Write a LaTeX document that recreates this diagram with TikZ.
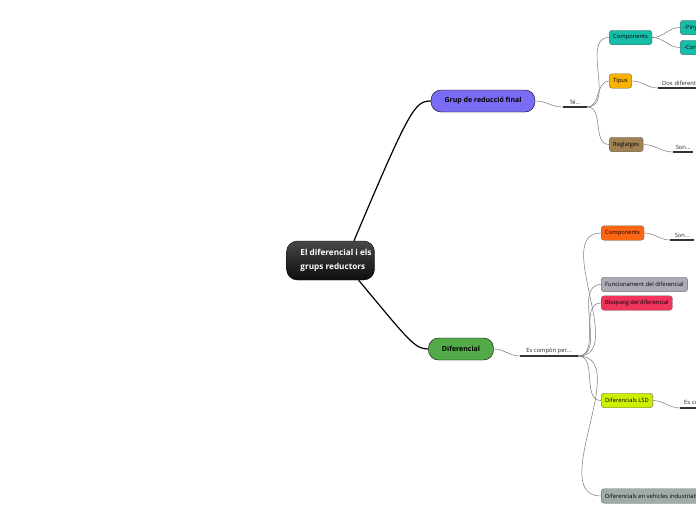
\documentclass[tikz,border=0pt]{standalone}
\usepackage{fontspec}
\setmainfont{Open Sans}
\usetikzlibrary{positioning}
\definecolor{grfcolor}{RGB}{122,108,245}
\definecolor{difcolor}{RGB}{82,170,72}
\definecolor{tealcolor}{RGB}{22,190,170}
\definecolor{tipcolor}{RGB}{250,178,0}
\definecolor{regcolor}{RGB}{160,130,82}
\definecolor{orgcolor}{RGB}{255,102,20}
\definecolor{funcolor}{RGB}{172,170,182}
\definecolor{blqcolor}{RGB}{240,52,92}
\definecolor{lsdcolor}{RGB}{206,240,0}
\definecolor{indcolor}{RGB}{162,172,166}
\definecolor{linkgray}{RGB}{120,120,120}
\tikzset{
  central/.style = {draw=black,top color=black!72,bottom color=black!95,
                    text=white,rounded corners=11pt,
                    minimum width=85pt,minimum height=39pt,align=left,
                    font=\fontsize{8.2}{13.5}\selectfont\bfseries,inner sep=3pt},
  mainbox/.style = {draw=black,rounded corners=10pt,minimum height=22pt,
                    font=\fontsize{7}{8}\selectfont\bfseries,inner xsep=13.5pt},
  subbox/.style  = {draw=black!60,rounded corners=3pt,minimum height=14.5pt,
                    font=\fontsize{5.8}{7}\selectfont,inner xsep=4pt,
                    inner ysep=1pt,anchor=west},
  lbl/.style     = {font=\fontsize{5.8}{7}\selectfont,text=black!85,
                    inner ysep=2pt,inner xsep=0pt},
  trunk/.style   = {line width=1.2pt,black},
  link/.style    = {linkgray,line width=0.5pt},
  ul/.style      = {line width=1.4pt,black!80},
}
\begin{document}
\begin{tikzpicture}[x=1pt,y=-1pt]
  \clip (0,0) rectangle (696,520);
  \fill[white] (0,0) rectangle (696,520);

  % central topic
  \node[central] (cen) at (330.5,260.5)
    {\hspace*{11pt}El diferencial i els\\\hspace*{11pt}grups reductors};

  % main topics
  \node[mainbox,fill=grfcolor] (grf) at (483,101) {Grup de reducció final};
  \node[mainbox,fill=difcolor] (dif) at (461,349) {Diferencial};
  \draw[trunk] (cen.40) .. controls (410,108) and (415,101) .. (grf.west);
  \draw[trunk] (cen.-35) .. controls (410,342) and (415,349) .. (dif.west);

  % labels on main branches
  \node[lbl,anchor=south,minimum width=24pt] (te) at (575,107) {Té...};
  \draw[ul] (te.south west) -- (te.south east);
  \draw[link] (grf.east) to[out=0,in=180] (te.south west);

  \node[lbl,anchor=south,minimum width=58pt] (esc) at (549,356) {Es compòn per...};
  \draw[ul] (esc.south west) -- (esc.south east);
  \draw[link] (dif.east) to[out=0,in=180] (esc.south west);

  % children of Grup de reducció final
  \node[subbox,fill=tealcolor] (comp) at (609,37.5) {Components};
  \node[subbox,fill=tipcolor] (tip) at (609,81) {Tipus};
  \node[subbox,fill=regcolor] (reg) at (609,144.5) {Reglatges};
  \foreach \n in {comp,tip,reg}
    \draw[link] (te.south east) to[out=0,in=180] (\n.west);

  \node[subbox,fill=tealcolor] (piny) at (680,27.5) {-Pinyó};
  \node[subbox,fill=tealcolor] (cor) at (680,47.5) {-Corona};
  \foreach \n in {piny,cor}
    \draw[link] (comp.east) to[out=0,in=180] (\n.west);

  \node[lbl,anchor=south west,text width=56pt,inner xsep=4pt,align=left] (dos) at (658,88) {Dos diferents...};
  \draw[ul] (dos.south west) -- (dos.south east);
  \draw[link] (tip.east) to[out=0,in=180] (dos.south west);

  \node[lbl,anchor=south west,minimum width=20pt] (sonr) at (673,152) {Son...};
  \draw[ul] (sonr.south west) -- (sonr.south east);
  \draw[link] (reg.east) to[out=0,in=180] (sonr.south west);

  % children of Diferencial
  \node[subbox,fill=orgcolor] (compd) at (601,233) {Components};
  \node[subbox,fill=funcolor] (fun) at (601,284.5) {Funcionament del diferencial};
  \node[subbox,fill=blqcolor] (blq) at (601,303) {Bloqueig del diferencial};
  \node[subbox,fill=lsdcolor] (lsd) at (601,400.5) {Diferencials LSD};
  \node[subbox,fill=indcolor] (ind) at (601,496) {Diferencials en vehicles industrials};
  \foreach \n in {compd,fun,blq,lsd,ind}
    \draw[link] (esc.south east) to[out=0,in=180] (\n.west);

  \node[lbl,anchor=south west,minimum width=24pt] (sond) at (670,240) {Son...};
  \draw[ul] (sond.south west) -- (sond.south east);
  \draw[link] (compd.east) to[out=0,in=180] (sond.south west);

  \node[lbl,anchor=south west,text width=40pt,inner xsep=4pt,align=left] (esl) at (680,408) {Es compon...};
  \draw[ul] (esl.south west) -- (esl.south east);
  \draw[link] (lsd.east) to[out=0,in=180] (esl.south west);
\end{tikzpicture}
\end{document}
